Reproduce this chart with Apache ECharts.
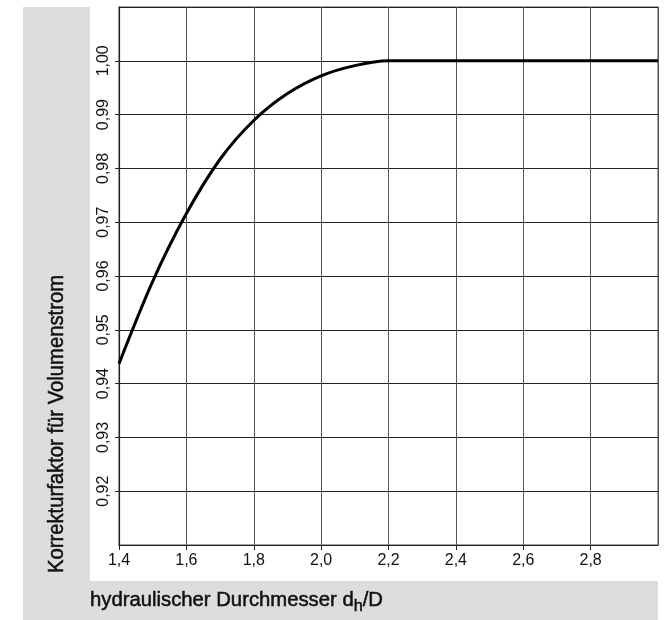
<!DOCTYPE html>
<html>
<head>
<meta charset="utf-8">
<script src="https://cdn.jsdelivr.net/npm/echarts@6/dist/echarts.min.js"></script>
<style>
html,body{margin:0;padding:0;background:#fff;}
#c{width:668px;height:620px;}
</style>
</head>
<body>
<div id="c"></div>
<script>
// Data
var xValues = [1.4, 1.5, 1.6, 1.7, 1.8, 1.9, 2.0, 2.1, 2.2, 2.3, 2.4, 2.5, 2.6, 2.7, 2.8, 2.9, 3.0];
var yValues = [0.9437, 0.9590, 0.9716, 0.9817, 0.9889, 0.9939, 0.9972, 0.9991, 1.0, 1.0, 1.0, 1.0, 1.0, 1.0, 1.0, 1.0, 1.0];
var xTicks = [1.4, 1.6, 1.8, 2.0, 2.2, 2.4, 2.6, 2.8];
var yTicks = [0.92, 0.93, 0.94, 0.95, 0.96, 0.97, 0.98, 0.99, 1.00];
var yTitle = 'Korrekturfaktor für Volumenstrom';
var xTitleMain = 'hydraulischer Durchmesser d';
var xTitleSub = 'h';
var xTitleEnd = '/D';

var FONT = '"Liberation Sans", Arial, sans-serif';
var LABEL_FONT = '"Liberation Sans", Arial, sans-serif';

function inList(list, v) {
  for (var i = 0; i < list.length; i++) if (Math.abs(list[i] - v) < 1e-6) return true;
  return false;
}

// measure text to condense it horizontally like the reference's condensed face
var mctx = document.createElement('canvas').getContext('2d');
function textW(str, size) { mctx.font = size + 'px ' + FONT; return mctx.measureText(str).width; }
var Y_SIZE = 22, X_SIZE = 20, SUB_SIZE = 16;
var yScale = 298 / textW(yTitle, Y_SIZE);
var xScale = 293 / (textW(xTitleMain, X_SIZE) + textW(xTitleSub, SUB_SIZE) + textW(xTitleEnd, X_SIZE));

var chart = echarts.init(document.getElementById('c'), null, {renderer: 'canvas'});
var option = {
  backgroundColor: '#ffffff',
  animation: false,
  graphic: [
    {type: 'rect', z: -10, silent: true, shape: {x: 23, y: 7, width: 635, height: 613}, style: {fill: '#dcdddf'}},
    {type: 'rect', z: -9, silent: true, shape: {x: 90, y: 7, width: 568, height: 574}, style: {fill: '#ffffff'}},
    {type: 'text', x: 57, y: 424, rotation: Math.PI / 2, scaleX: yScale, silent: true,
      style: {text: yTitle, font: Y_SIZE + 'px ' + FONT, fill: '#111', stroke: '#111', lineWidth: 0.5,
        align: 'center', verticalAlign: 'middle'}},
    {type: 'text', x: 90, y: 600.5, scaleX: xScale, silent: true,
      style: {
        text: '{a|' + xTitleMain + '}{s|' + xTitleSub + '}{a|' + xTitleEnd + '}',
        align: 'left', verticalAlign: 'middle',
        rich: {
          a: {fontFamily: FONT, fontSize: X_SIZE, fill: '#111', color: '#111', textStroke: '#111', textStrokeWidth: 0.5, stroke: '#111', lineWidth: 0.5, lineHeight: 30, verticalAlign: 'middle'},
          s: {fontFamily: FONT, fontSize: SUB_SIZE, fill: '#111', color: '#111', stroke: '#111', lineWidth: 0.5, lineHeight: 30, verticalAlign: 'middle', padding: [12, 0, 0, 0]}
        }
      }}
  ],
  grid: {left: 119, top: 7, right: 10, bottom: 75, show: true, borderColor: '#888', borderWidth: 1.5, backgroundColor: 'transparent'},
  xAxis: {
    type: 'value', min: 1.4, max: 3.0, interval: 0.2,
    axisLine: {show: true, onZero: false, lineStyle: {color: '#222', width: 1.2}},
    axisTick: {show: true, length: 5, inside: false, lineStyle: {color: '#222', width: 1}},
    splitLine: {show: true, lineStyle: {color: '#555', width: 1}},
    axisLabel: {
      margin: 8, color: '#111', fontFamily: LABEL_FONT, fontSize: 16,
      showMaxLabel: false,
      formatter: function (v) { return inList(xTicks, v) ? v.toFixed(1).replace('.', ',') : ''; }
    }
  },
  yAxis: {
    type: 'value', min: 0.91, max: 1.01, interval: 0.01,
    axisLine: {show: true, onZero: false, lineStyle: {color: '#222', width: 1.2}},
    axisTick: {show: true, length: 4, inside: false, lineStyle: {color: '#222', width: 1}},
    splitLine: {show: true, lineStyle: {color: '#222', width: 1}},
    axisLabel: {
      margin: 7, color: '#111', fontFamily: LABEL_FONT, fontSize: 16, rotate: 90,
      showMinLabel: false, showMaxLabel: false,
      formatter: function (v) { return inList(yTicks, v) ? v.toFixed(2).replace('.', ',') : ''; }
    }
  },
  series: [{
    type: 'line',
    data: xValues.map(function (x, i) { return [x, yValues[i]]; }),
    smooth: 0.3,
    showSymbol: false,
    lineStyle: {color: '#000', width: 3},
    z: 5
  }]
};
chart.setOption(option);
</script>
</body>
</html>
